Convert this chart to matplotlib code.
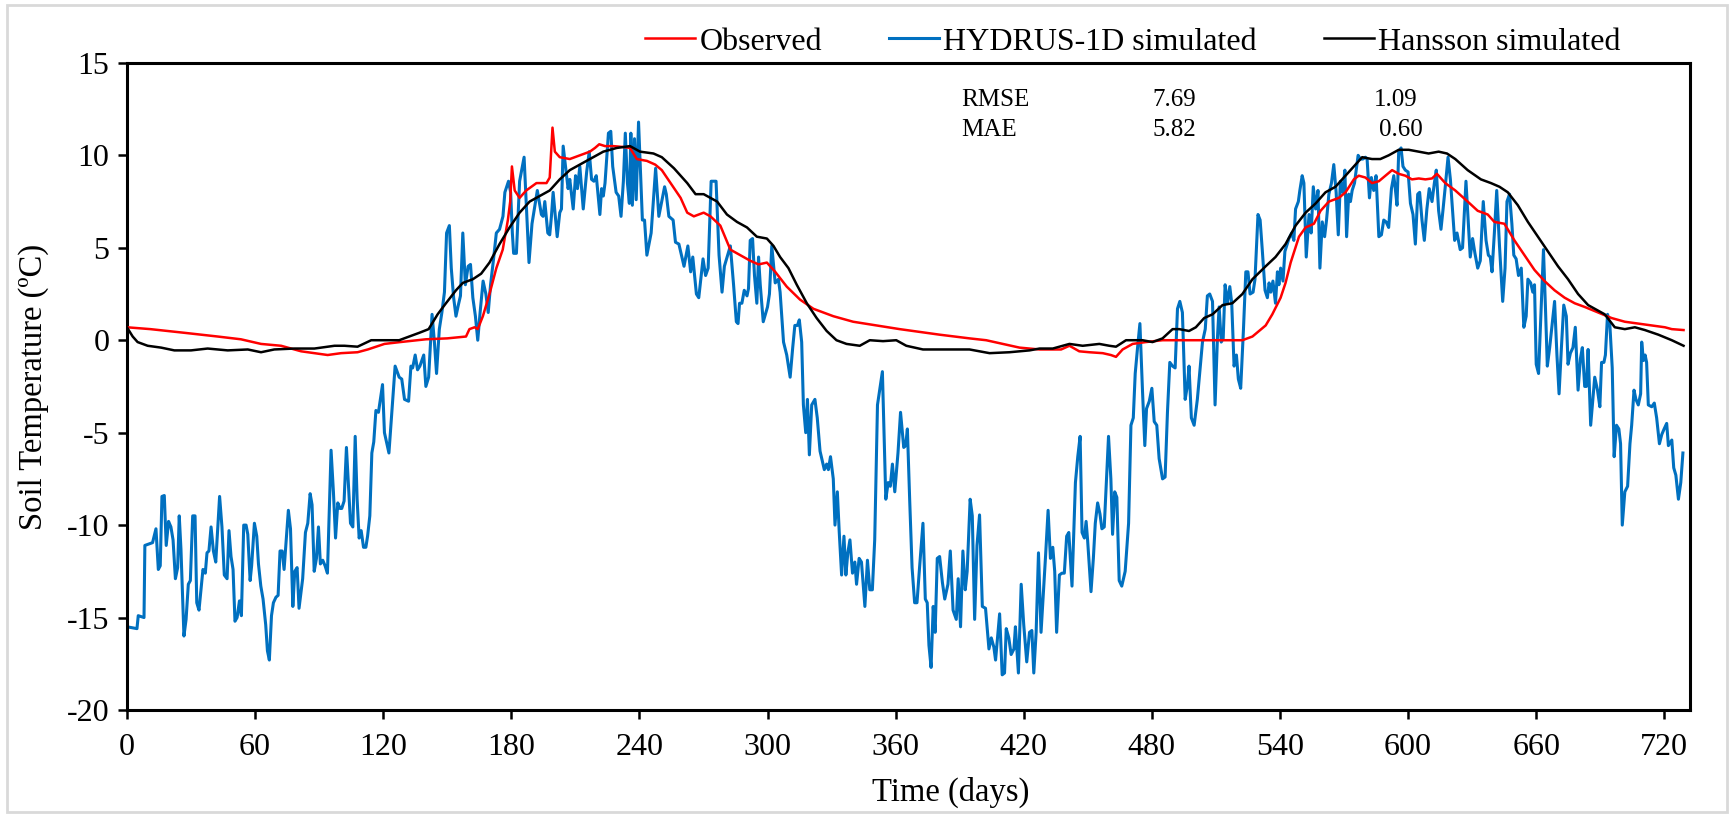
import numpy as np
import matplotlib
matplotlib.use('Agg')
import matplotlib.pyplot as plt
from matplotlib.patches import Rectangle

plt.rcParams['font.family'] = ['Liberation Serif', 'DejaVu Serif']
plt.rcParams['axes.unicode_minus'] = False

# (day, temperature)
observed = [
    (0, 0.7), (11, 0.6), (27, 0.4), (42.5, 0.2), (53.4, 0.05), (62.8, -0.2), (72.2, -0.3),
    (81.6, -0.6), (87.8, -0.7), (94, -0.8), (100.3, -0.7), (108, -0.65), (112.8, -0.5),
    (120.6, -0.2), (128, -0.1), (140, 0.05), (150, 0.1), (158.8, 0.2), (160.4, 0.6),
    (162.8, 0.7), (164.3, 0.6), (166.7, 1.3), (169.8, 2.5), (173, 3.9), (176, 4.9),
    (178.4, 6.5), (179.5, 7.5), (180.3, 9.4), (181.6, 8.1), (183.9, 7.7), (187, 8.1),
    (191.8, 8.5), (196.5, 8.5), (198, 8.8), (199.3, 11.5), (200.4, 10.2), (202.7, 9.9),
    (207.4, 9.8), (212.1, 10.0), (216.8, 10.2), (219.2, 10.4), (221.2, 10.6), (223.9, 10.5),
    (227.8, 10.5), (232.5, 10.45), (235.6, 10.4), (238.8, 9.8), (243.5, 9.7), (247.4, 9.5),
    (250.5, 9.2), (254.6, 8.5), (259.3, 7.7), (262.4, 6.9), (265.5, 6.7), (270.1, 6.9),
    (273.3, 6.7), (277.9, 6.2), (282.6, 4.9), (287.2, 4.6), (291.9, 4.3), (295.8, 4.1),
    (299.7, 4.2), (303.6, 3.7), (309, 2.9), (315.2, 2.2), (321.5, 1.7), (330.8, 1.3),
    (340.1, 1.0), (351, 0.8), (361.9, 0.6), (371.2, 0.45), (380.6, 0.3), (394.6, 0.1),
    (402.4, 0.0), (410.2, -0.2), (418, -0.4), (427.4, -0.5), (437.5, -0.5), (441.4, -0.3),
    (446, -0.6), (450.7, -0.65), (457, -0.7), (460.8, -0.8), (463.2, -0.9), (466.3, -0.5),
    (471, -0.2), (477.2, -0.1), (485, 0.0), (494.3, 0.0), (503.7, 0.0), (511.5, 0.0),
    (522.4, 0.0), (527.1, 0.2), (530.2, 0.5), (533.3, 0.8), (536.4, 1.4), (540.3, 2.3),
    (542.6, 3.1), (545, 4.2), (548.9, 5.6), (552, 6.1), (555.9, 6.3), (559, 7.0),
    (562.9, 7.5), (567.6, 7.7), (570.7, 8.0), (574.6, 8.7), (576.9, 8.9), (580, 8.8),
    (583.1, 8.5), (586.3, 8.6), (589.4, 8.9), (592.5, 9.2), (595.6, 9.0), (598.7, 8.9),
    (601.8, 8.7), (605, 8.75), (608.1, 8.7), (611.2, 8.75), (613.5, 9.0), (617.4, 8.5),
    (622.1, 8.1), (627.9, 7.5), (632.6, 7.0), (637.3, 6.8), (640.4, 6.4), (645.1, 6.3),
    (649.8, 5.4), (654.5, 4.6), (659.2, 3.8), (663.9, 3.2), (668.6, 2.7), (673.3, 2.3),
    (678, 2.0), (682.7, 1.8), (689, 1.5), (695.3, 1.2), (701.5, 1.0), (707.8, 0.9),
    (714.1, 0.8), (720.3, 0.7), (723.5, 0.6), (729, 0.55),
]

hydrus = [
    (0, -15.5), (4.7, -15.6), (5.3, -14.9), (8, -15.0), (8.4, -11.1), (12, -10.95), (13.6, -10.2),
    (14.7, -12.4), (15.6, -12.2), (16.4, -8.45), (17.5, -8.4), (18.4, -11.1), (19.5, -9.8),
    (20.6, -10.1), (21.6, -10.8), (22.7, -12.9), (23.75, -12.3), (24.5, -9.5), (25.3, -11.3),
    (26.7, -16.0), (27.7, -15.1), (28.75, -13.2), (29.7, -13.0), (30.8, -9.5), (31.9, -9.5),
    (32.7, -14.2), (33.75, -14.6), (34.7, -13.5), (35.6, -12.4), (36.7, -12.6), (37.5, -11.5),
    (38.4, -11.4), (39.4, -10.1), (40.5, -11.4), (41.6, -12.0), (43.4, -8.45), (44.5, -10.1),
    (45.6, -12.7), (46.9, -12.9), (47.8, -10.3), (48.75, -11.7), (49.7, -12.4), (50.6, -15.2),
    (51.6, -15.0), (52.7, -14.1), (53.6, -14.9), (54.7, -10.0), (55.8, -10.0), (56.6, -10.5),
    (57.7, -13.0), (58.4, -12.2), (59.7, -9.9), (60.8, -10.6), (61.6, -12.1), (62.7, -13.3),
    (63.75, -14.0), (65, -15.4), (65.8, -16.8), (66.7, -17.3), (67.7, -14.9), (68.6, -14.2),
    (69.8, -13.9), (70.8, -13.8), (71.7, -11.4), (72.7, -11.4), (73.6, -12.4), (75.6, -9.2),
    (76.6, -10.2), (77.7, -14.4), (78.6, -12.5), (79.7, -12.3), (80.6, -14.5), (82.3, -12.9),
    (83.6, -10.4), (84.7, -9.9), (85.8, -8.3), (86.7, -8.9), (87.7, -12.5), (88.75, -11.8),
    (89.7, -10.1), (90.6, -12.1), (91.7, -11.9), (92.8, -12.2), (93.9, -12.6), (95.6, -5.95),
    (96.7, -8.2), (97.7, -10.7), (98.75, -8.8), (99.8, -9.1), (100.6, -9.1), (101.7, -8.7),
    (102.8, -5.8), (104.7, -9.9), (105.8, -10.1), (106.9, -5.2), (107.8, -8.6), (108.75, -10.7),
    (109.7, -10.3), (110.8, -11.2), (111.9, -11.2), (112.7, -10.6), (113.75, -9.5), (114.7, -6.1),
    (115.6, -5.5), (116.6, -3.8), (117.8, -3.9), (119.7, -2.4), (120.6, -5.0), (122.7, -6.1),
    (125.6, -1.4), (127.5, -2.0), (128.7, -2.1), (130, -3.2), (131.9, -3.3), (133, -1.4),
    (133.8, -1.5), (135, -0.8), (136.1, -1.6), (137.2, -1.4), (139, -0.8), (140, -2.5),
    (141.3, -2.0), (142.9, 1.4), (144, -0.1), (145, -1.8), (146.3, 0.6), (147.5, 1.5),
    (148.7, 2.6), (149.7, 5.8), (151, 6.2), (151.9, 3.9), (153, 2.3), (154.1, 1.3),
    (155.2, 1.9), (156.2, 2.4), (157.3, 5.8), (158.5, 3.0), (159.8, 4.0), (160.9, 4.1),
    (162, 2.3), (163.2, 1.3), (164.3, 0.0), (165.4, 1.5), (166.8, 3.2), (168.1, 2.5),
    (169.2, 1.5), (170.3, 3.0), (171.7, 4.4), (173, 5.8), (174.5, 6.0), (176.1, 6.7),
    (177, 8.0), (178.7, 8.6), (179.7, 8.0), (180.5, 5.8), (181.1, 4.7), (182.4, 4.7),
    (183.9, 8.6), (186, 9.9), (188.3, 4.2), (189.7, 6.3), (192.2, 8.1), (194.1, 6.8),
    (194.9, 6.7), (195.7, 7.5), (197.1, 5.8), (198, 5.7), (198.8, 6.7), (199.6, 8.0),
    (201.5, 5.6), (202.7, 6.9), (203.5, 7.1), (204.3, 10.5), (205.4, 9.4), (206.6, 8.2),
    (207.4, 8.7), (209, 7.1), (210.1, 8.9), (211, 8.2), (212.1, 9.4), (213.7, 7.1),
    (214.6, 8.2), (215.3, 9.1), (216.5, 10.2), (217.6, 8.7), (218.7, 8.6), (219.8, 8.9),
    (221.5, 6.8), (222.3, 8.2), (223.1, 7.8), (223.9, 8.5), (225.5, 11.2), (226.6, 11.3),
    (227.5, 9.4), (229.1, 8.0), (230.3, 7.8), (231.4, 6.7), (232.5, 8.6), (233.4, 11.2),
    (234.4, 8.5), (235.3, 7.4), (236, 11.2), (236.7, 7.3), (237.7, 10.9), (238.5, 7.6),
    (239.6, 11.8), (241.4, 6.5), (242.4, 6.5), (243.5, 4.6), (245.5, 5.8), (247.6, 9.3),
    (249.1, 6.7), (251.8, 8.3), (252.6, 7.9), (253.8, 6.7), (255.8, 6.5), (256.9, 5.3),
    (258.5, 5.2), (260.9, 4.0), (262.7, 5.1), (264, 3.7), (265, 4.5), (266.7, 2.5),
    (267.8, 2.3), (269.8, 4.4), (271, 3.5), (272.2, 3.9), (273.6, 8.6), (275.9, 8.6),
    (277.3, 4.6), (278.7, 2.6), (279.8, 4.0), (282.6, 5.1), (284.1, 3.0), (285.4, 1.0),
    (286.2, 0.9), (286.9, 2.0), (288, 2.0), (289.1, 2.7), (290.4, 2.4), (291.1, 2.8),
    (291.9, 5.4), (293, 5.5), (293.9, 3.5), (295, 2.0), (295.8, 4.5), (296.6, 3.0),
    (298, 1.0), (300, 1.8), (300.9, 2.5), (302, 5.1), (303.6, 3.1), (305.1, 3.3),
    (305.9, 2.6), (307.5, -0.1), (309, -0.8), (310.6, -2.0), (311.8, -0.4), (312.8, 0.8),
    (314, 0.8), (314.9, 1.1), (316, -0.1), (316.8, -3.5), (317.9, -5.0), (318.7, -3.2),
    (319.6, -6.2), (320.7, -3.5), (322.2, -3.2), (323.3, -4.2), (324.6, -6.0), (326.6, -7.0),
    (327.7, -6.7), (328.5, -7.0), (329.5, -6.3), (330.8, -7.5), (331.6, -10.0), (332.7, -8.2),
    (333.6, -10.4), (334.7, -12.7), (335.8, -10.6), (336.7, -12.7), (337.6, -11.5), (338.6, -10.8),
    (339.8, -12.6), (340.9, -12.0), (341.7, -13.2), (342.9, -11.8), (344, -12.0), (345.6, -14.4),
    (346.8, -11.9), (347.9, -13.5), (349.1, -13.5), (350.2, -10.8), (351.5, -3.5), (353.8, -1.7),
    (355.4, -8.6), (356.5, -7.7), (357.5, -7.9), (358.5, -6.7), (359.6, -8.2), (361.1, -6.1),
    (362.3, -3.9), (363.8, -5.8), (364.7, -5.7), (365.5, -4.8), (366.6, -8.7), (367.7, -12.3),
    (368.9, -14.2), (370, -14.2), (371.2, -12.3), (372.8, -9.9), (373.9, -14.0), (374.8, -14.2),
    (375.6, -16.5), (376.6, -17.7), (377.6, -14.4), (378.5, -15.8), (379.5, -11.8), (380.6, -11.7),
    (381.9, -13.1), (383, -14.0), (384.5, -13.2), (385.6, -11.4), (386.9, -14.6), (388.4, -15.1),
    (389.3, -12.9), (390.4, -15.5), (391.5, -11.4), (392.6, -13.5), (393.5, -12.5), (394.9, -8.6),
    (395.9, -9.5), (397, -15.1), (398.1, -11.1), (399.3, -9.45), (400.6, -14.4), (402.1, -14.5),
    (403.7, -16.7), (404.8, -16.1), (406, -16.6), (406.8, -17.3), (408.7, -14.8), (409.9, -18.1),
    (411, -18.0), (411.8, -15.6), (413, -16.1), (414.1, -17.0), (415.4, -16.7), (416.1, -15.5),
    (417.5, -18.0), (418.8, -13.2), (420, -15.4), (421.4, -17.4), (422.7, -15.8), (423.8, -15.7),
    (424.7, -18.0), (425.8, -15.8), (426.9, -11.5), (428.1, -15.8), (430.2, -11.7), (431.4, -9.2),
    (432.5, -11.8), (433.6, -11.2), (434.5, -12.5), (435.4, -15.8), (436.7, -12.7), (437.9, -12.6),
    (439, -12.6), (440.1, -10.6), (441.1, -10.4), (442.6, -13.3), (444.2, -7.7), (445.3, -6.3),
    (446.4, -5.2), (447.3, -10.4), (448.4, -10.7), (449.2, -9.8), (449.9, -10.8), (451.5, -13.6),
    (452.6, -11.8), (453.5, -9.9), (454.6, -8.8), (455.7, -9.4), (456.6, -10.2), (457.7, -10.1),
    (459.7, -5.2), (460.8, -7.5), (461.6, -10.5), (462.6, -8.2), (463.6, -8.5), (464.7, -13.0),
    (465.9, -13.3), (467.5, -12.5), (469.1, -9.9), (470.2, -4.6), (471.3, -4.2), (472.2, -1.8),
    (473.3, -0.4), (474.4, 0.9), (475.6, -2.7), (476.7, -5.7), (477.5, -3.7), (478.8, -3.3),
    (480, -2.6), (481.1, -4.4), (482.3, -4.6), (483.4, -6.4), (485, -7.5), (486.2, -7.4),
    (487.3, -3.9), (488.4, -1.2), (489.7, -1.4), (490.9, -1.5), (492, 1.7), (493.1, 2.1),
    (494.3, 1.5), (495.6, -3.2), (496.7, -2.4), (497.4, -1.4), (498.5, -4.2), (499.8, -4.6),
    (501.3, -3.2), (503.7, -0.1), (505, 0.6), (506, 2.4), (507.1, 2.5), (508.4, 2.1),
    (509.6, -3.5), (510.7, 0.1), (511.5, 1.8), (512.5, -0.1), (513.4, 0.1), (514.3, 3.0),
    (515.4, 2.0), (516.5, 2.9), (517.4, 2.0), (518.5, -1.4), (519.6, -0.8), (520.5, -2.1),
    (521.6, -2.6), (522.9, 0.6), (524, 3.7), (525, 3.7), (526, 2.5), (527.4, 2.6),
    (528.3, 3.3), (529.7, 6.8), (530.7, 6.5), (531.7, 4.9), (533, 2.7), (534.1, 2.3),
    (534.9, 3.1), (535.7, 2.6), (536.7, 3.2), (537.9, 2.0), (538.8, 3.7), (539.5, 3.0),
    (540.3, 3.9), (541.4, 3.2), (542.3, 4.8), (543.1, 5.1), (544.2, 5.5), (545.5, 5.8),
    (546.5, 5.4), (547.3, 7.1), (548.6, 7.5), (549.3, 8.1), (550.4, 8.9), (551.2, 8.5),
    (552.3, 4.5), (553.6, 6.8), (554.6, 5.8), (555.6, 8.3), (556.7, 7.1), (557.8, 8.1),
    (558.7, 3.9), (559.8, 6.4), (560.9, 5.6), (561.8, 6.5), (562.9, 7.9), (564.1, 8.5),
    (565.2, 9.5), (566.3, 8.0), (567.3, 5.7), (568.3, 8.6), (569.4, 8.0), (570.4, 9.2),
    (571.2, 5.6), (572.2, 7.9), (573, 7.5), (573.8, 8.1), (574.9, 8.5), (575.8, 9.3),
    (576.6, 10.0), (577.7, 9.8), (578.8, 9.8), (580, 9.9), (580.8, 9.8), (581.9, 7.7),
    (582.8, 8.8), (583.9, 8.1), (585, 8.9), (586.3, 5.6), (587.5, 5.7), (588.6, 6.5),
    (589.7, 6.4), (590.9, 6.1), (592.2, 8.2), (593.3, 8.9), (594, 8.2), (594.8, 7.3),
    (595.6, 10.2), (596.7, 10.4), (597.6, 9.4), (598.7, 9.2), (600, 9.1), (601.1, 7.4),
    (602.3, 6.8), (603.4, 5.2), (604.5, 7.9), (605.4, 8.0), (606.5, 6.5), (607.6, 5.4),
    (608.8, 7.1), (609.9, 8.2), (611.2, 7.5), (612.3, 8.5), (613.2, 9.2), (614.3, 7.0),
    (615.4, 6.0), (616.3, 7.0), (617.4, 8.3), (618.7, 9.9), (619.8, 8.7), (620.9, 6.9),
    (621.8, 5.4), (622.9, 5.8), (624.4, 4.9), (625.5, 5.0), (627.1, 8.6), (628.2, 6.3),
    (629.1, 4.5), (630.2, 5.5), (631.3, 4.7), (632.6, 3.9), (633.8, 4.3), (635.2, 7.5),
    (636.5, 5.4), (637.6, 4.6), (638.5, 4.5), (639.3, 3.7), (640.4, 5.8), (641.5, 8.1),
    (642.8, 5.1), (644.3, 2.1), (645.4, 3.9), (646.3, 7.5), (647.5, 7.9), (648.6, 6.3),
    (649.5, 4.6), (650.6, 4.4), (651.7, 3.5), (653, 3.9), (654.2, 0.7), (655.3, 1.3),
    (656.1, 3.3), (657.4, 3.1), (658.4, 2.6), (659.2, 3.0), (660, -1.3), (661.1, -1.8),
    (662.4, 2.0), (663.4, 4.9), (664.4, 1.5), (665.2, -1.4), (666.3, -0.4), (667.4, 0.8),
    (668.6, 2.1), (669.7, -0.8), (670.7, -2.9), (671.8, -0.4), (672.9, 1.9), (674.1, 1.3),
    (674.9, -1.3), (676, -0.7), (677.2, -0.4), (678.3, 0.7), (679.6, -2.7), (680.7, -1.0),
    (681.6, -0.4), (682.7, -2.5), (683.5, -2.5), (684.3, -0.5), (685.5, -4.6), (686.5, -3.2),
    (687.4, -2.0), (688.7, -2.7), (689.8, -3.6), (690.6, -1.2), (691.7, -1.2), (692.4, -0.8),
    (693.4, 1.4), (694.5, 0.8), (695.6, -1.5), (696.5, -6.3), (697.6, -4.6), (698.7, -4.8),
    (699.5, -5.6), (700.3, -10.0), (701.5, -8.2), (702.8, -7.9), (703.9, -5.6), (704.7, -4.6),
    (705.8, -2.7), (706.7, -3.2), (707.8, -3.5), (708.9, -2.9), (709.4, -0.1), (710.2, -1.1),
    (711, -0.8), (711.7, -1.2), (712.5, -3.5), (714.1, -3.6), (715.3, -3.4), (716.4, -4.2),
    (717.7, -5.6), (718.8, -5.1), (719.9, -4.8), (721.1, -4.5), (721.9, -5.7), (723.5, -5.4),
    (724.4, -6.9), (725.4, -7.3), (726.6, -8.6), (727.7, -7.7), (728.7, -6.1),
]

hansson = [
    (0, 0.7), (2.7, 0.2), (5, -0.1), (9.7, -0.3), (16, -0.4), (22.2, -0.55), (30, -0.55),
    (37.8, -0.45), (47.2, -0.55), (56.6, -0.5), (62.8, -0.65), (69, -0.5), (78.4, -0.45),
    (87.8, -0.45), (97.2, -0.3), (101.9, -0.3), (108, -0.35), (114.4, 0.0), (122, 0.0),
    (127.5, 0.0), (132.2, 0.2), (136.9, 0.4), (141.3, 0.6), (145.5, 1.4), (149.4, 2.0),
    (154.1, 2.7), (157.3, 3.1), (162, 3.3), (165.9, 3.6), (169.8, 4.2), (174.5, 5.2),
    (179.2, 6.1), (183.9, 6.9), (188.6, 7.5), (193.3, 7.8), (198, 8.1), (202.7, 8.7),
    (207.4, 9.2), (212.1, 9.5), (216.8, 9.8), (223.1, 10.2), (229.4, 10.4), (235.6, 10.5),
    (240.3, 10.2), (246.6, 10.1), (250.5, 9.9), (256.2, 9.3), (262.4, 8.5), (266.3, 7.9),
    (270.1, 7.9), (276.4, 7.5), (281, 6.8), (285.7, 6.4), (290.4, 6.1), (295, 5.6),
    (299.7, 5.5), (302.8, 5.1), (305.9, 4.5), (309.8, 3.9), (313.7, 3.0), (318.4, 2.0),
    (323, 1.2), (327.7, 0.5), (332.3, 0.0), (337, -0.2), (343.2, -0.3), (347.9, 0.0),
    (354.1, -0.05), (360.3, 0.0), (365, -0.3), (372.8, -0.5), (380.6, -0.5), (385.3, -0.5),
    (394.6, -0.5), (404, -0.7), (413.3, -0.65), (422.7, -0.55), (427.4, -0.45), (433.6, -0.45),
    (441.4, -0.2), (447.6, -0.3), (455.4, -0.2), (460.1, -0.3), (463.2, -0.35), (467.9, 0.0),
    (472.5, 0.0), (475.6, 0.0), (480.3, -0.1), (485, 0.1), (489.7, 0.6), (492.8, 0.6),
    (497.4, 0.5), (500.6, 0.7), (504.5, 1.2), (508.4, 1.4), (513.1, 1.9), (517.7, 2.0),
    (522.4, 2.5), (527.1, 3.3), (533.3, 4.0), (537.9, 4.5), (542.6, 5.2), (547.3, 6.2),
    (552, 6.9), (556.7, 7.4), (561.3, 8.0), (566, 8.3), (570.7, 8.9), (575.4, 9.5),
    (578.5, 9.9), (583.1, 9.8), (587, 9.8), (590.9, 10.0), (595.6, 10.3), (600.3, 10.3),
    (605, 10.2), (609.6, 10.1), (614.3, 10.2), (618.2, 10.1), (622.1, 9.8), (627.9, 9.2),
    (634.1, 8.7), (638.8, 8.5), (642.8, 8.3), (646.7, 8.0), (651.4, 7.3), (656.1, 6.4),
    (660.8, 5.6), (665.5, 4.8), (670.2, 4.0), (674.9, 3.3), (679.6, 2.5), (684.3, 1.9),
    (689, 1.6), (692.1, 1.4), (696.8, 0.7), (701.5, 0.6), (706.2, 0.7), (710.9, 0.55),
    (717.2, 0.3), (723.5, 0.0), (729, -0.3),
]

stat_rows = ['RMSE', 'MAE']
stat_hydrus = ['7.69', '5.82']
stat_hansson = ['1.09', '0.60']

fig = plt.figure(figsize=(17.34, 8.17), dpi=100)
ax = fig.add_axes([0.0732, 0.131, 0.9014, 0.792])

obs = np.array(observed).T
hyd = np.array(hydrus).T
han = np.array(hansson).T

l_obs, = ax.plot(obs[0], obs[1], color='#FF0000', lw=1.8, label='Observed', zorder=3)
l_hyd, = ax.plot(hyd[0], hyd[1], color='#0070C0', lw=2.2, label='HYDRUS-1D simulated', zorder=2)
l_han, = ax.plot(han[0], han[1], color='black', lw=1.8, label='Hansson simulated', zorder=4)

ax.set_xlim(0, 732)
ax.set_ylim(-20, 15)
ax.set_xticks(np.arange(0, 721, 60))
ax.set_yticks(np.arange(-20, 16, 5))
for s in ax.spines.values():
    s.set_linewidth(2.2)
ax.tick_params(direction='out', length=6.5, width=1.8, labelsize=23)
ax.tick_params(axis='x', pad=10)
ax.tick_params(axis='y', pad=6)

ax.set_xlabel('Time (days)', fontsize=23.5)
ax.xaxis.set_label_coords(0.527, -0.128)
ax.xaxis.label.set_va('center')
ax.set_ylabel('Soil Temperature (ºC)', fontsize=23.5, labelpad=13)

for i, name in enumerate(stat_rows):
    y = 0.942 - i * 0.046
    ax.text(0.534, y, name, transform=ax.transAxes, fontsize=18, va='center')
    ax.text(0.656, y, stat_hydrus[i], transform=ax.transAxes, fontsize=18, va='center')
    ax.text(0.798 + 0.003 * i, y, stat_hansson[i], transform=ax.transAxes, fontsize=18, va='center')

leg = ax.legend(handles=[l_obs, l_hyd, l_han], loc='center right',
                bbox_to_anchor=(1621 / 1734, 1 - 42 / 817), bbox_transform=fig.transFigure,
                ncol=3, frameon=False, fontsize=23, handlelength=1.55, handletextpad=0.15,
                columnspacing=2.1, borderpad=0, borderaxespad=0)

fig.patches.append(Rectangle((0.004, 0.006), 0.992, 0.988, transform=fig.transFigure,
                             fill=False, ec='#d9d9d9', lw=2))

fig.savefig('out.png', dpi=100)
